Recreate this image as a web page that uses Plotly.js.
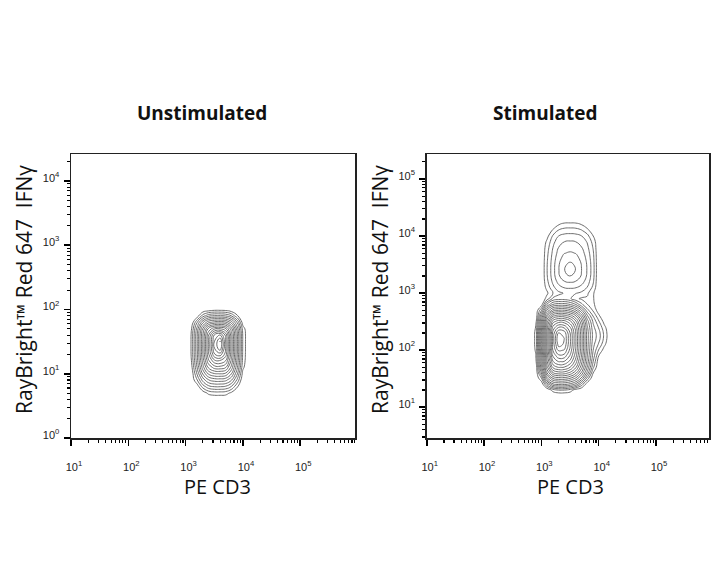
<!DOCTYPE html>
<html>
<head>
<meta charset="utf-8">
<script src="https://cdn.plot.ly/plotly-3.0.1.min.js"></script>
<style>html,body{margin:0;padding:0;background:#fff;}#chart{width:720px;height:576px;}</style>
</head>
<body>
<div id="chart"></div>
<script>
// ---------- data ----------
var panelTitles = ["Unstimulated", "Stimulated"];
var xTitle = "PE CD3";
var yTitle = "RayBright\u2122 Red 647  IFN\u03b3";

var xTickVals = [10, 100, 1000, 10000, 100000];
var xTickText = ["10<sup>1</sup>", "10<sup>2</sup>", "10<sup>3</sup>", "10<sup>4</sup>", "10<sup>5</sup>"];
var leftYTickVals = [1, 10, 100, 1000, 10000];
var leftYTickText = ["10<sup>0</sup>", "10<sup>1</sup>", "10<sup>2</sup>", "10<sup>3</sup>", "10<sup>4</sup>"];
var rightYTickVals = [10, 100, 1000, 10000, 100000];
var rightYTickText = ["10<sup>1</sup>", "10<sup>2</sup>", "10<sup>3</sup>", "10<sup>4</sup>", "10<sup>5</sup>"];

// Unstimulated: estimated density level (contour index) on a grid
var leftX = [800, 1000, 1250, 1600, 2000, 2500, 3200, 4000, 5000, 6300, 8000, 10000, 12500, 16000];
var leftY = [3.2, 4, 5, 6.3, 8, 10, 12.5, 16, 20, 25, 32, 40, 50, 63, 80, 100, 125];
var leftZ = [
  [0,0,0,0,0,0,0,0,0,0,0,0,0,0],
  [0,0,0,0,0,0,0,0,0,0,0,0,0,0],
  [0,0,0,0,0.3,1.2,1.5,1.5,1.4,0.7,0,0,0,0],
  [0,0,0,0.4,2.4,3.6,4.0,4.0,3.8,2.9,1.05,0,0,0],
  [0,0,0,2.0,4.4,5.9,6.45,6.5,6.3,5.1,2.7,0,0,0],
  [0,0,0,3.2,6.1,8.1,8.9,9.0,8.7,7.0,4.0,0.54,0,0],
  [0,0,0.4,4.1,7.5,10.1,11.4,11.5,11.0,8.6,5.0,1.2,0,0],
  [0,0,0.8,4.7,8.4,11.75,13.76,14.0,13.0,9.75,5.6,1.6,0,0],
  [0,0,1.0,4.9,8.9,12.7,15.9,16.5,14.5,10.35,5.9,1.75,0,0],
  [0,0,1.0,5.0,9.0,13.0,17.0,18.7,15.0,10.5,6.0,1.8,0,0],
  [0,0,1.0,5.0,9.0,13.0,17.0,19.0,15.0,10.5,6.0,1.8,0,0],
  [0,0,1.0,5.0,8.9,12.8,16.2,17.0,14.7,10.4,6.0,1.8,0,0],
  [0,0,0.7,4.5,8.1,11.2,12.8,13.0,12.2,9.4,5.4,1.5,0,0],
  [0,0,0,3.0,5.8,7.7,8.4,8.5,8.2,6.6,3.8,0.4,0,0],
  [0,0,0,0.4,2.4,3.6,4.0,4.0,3.8,2.9,1.05,0,0,0],
  [0,0,0,0,0,0.2,0.5,0.5,0.4,0,0,0,0,0],
  [0,0,0,0,0,0,0,0,0,0,0,0,0,0]
];

// Stimulated: estimated density level (contour index) on a grid
var rightX = [630, 800, 1000, 1250, 1600, 2000, 2500, 3200, 4000, 5000, 6300, 8000, 10000, 12500, 16000];
var rightY = [16, 20, 25, 32, 40, 50, 63, 80, 100, 125, 160, 200, 250, 320, 400, 500, 630, 800,
              1000, 1250, 1600, 2000, 2500, 3200, 4000, 5000, 6300, 8000, 10000, 12500, 16000, 20000];
var rightZ = [
  [0,0,0,0,0,0,0,0,0,0,0,0,0,0,0],
  [0,0,0,0,1.4,2.0,2.0,1.5,0.4,0,0,0,0,0,0],
  [0,0,0,3.0,5.6,6.0,6.0,5.5,4.5,2.5,0.2,0,0,0,0],
  [0,0,1.8,6.6,9.0,9.5,9.5,8.9,7.7,5.7,2.6,0,0,0,0],
  [0,0,4.0,8.9,11.9,12.5,12.5,11.7,10.2,7.8,4.7,1.0,0,0,0],
  [0,0.05,5.5,10.6,14.2,15.0,14.9,13.9,12.1,9.4,5.9,2.2,0,0,0],
  [0,0.6,6.2,11.7,15.9,17.0,16.9,15.6,13.4,10.4,6.7,3.0,0.3,0,0],
  [0,0.9,6.6,12.4,17.2,18.7,18.6,16.8,14.3,11.0,7.1,3.6,1.0,0,0],
  [0,1.1,6.9,12.8,18.1,20.2,19.9,17.6,14.8,11.4,7.4,4.0,1.9,0.5,0],
  [0,1.2,7.0,13.0,18.4,21.4,20.8,18.0,15.0,11.5,7.5,4.3,2.8,1.2,0],
  [0,1.2,7.0,13.0,18.5,22.0,21.0,18.0,15.0,11.5,7.5,4.6,3.4,1.7,0],
  [0,1.2,7.0,12.9,18.4,21.0,20.6,17.9,14.9,11.4,7.5,4.6,3.4,1.7,0],
  [0,1.05,6.7,12.5,17.4,19.0,18.8,17.0,14.4,11.1,7.2,4.3,2.9,1.3,0],
  [0,0.5,6.0,11.5,15.5,16.5,16.4,15.2,13.1,10.2,6.5,3.8,2.1,0.6,0],
  [0,0,4.8,9.6,12.8,13.5,13.4,12.6,11.0,8.5,5.2,2.9,1.2,0,0],
  [0,0,2.8,7.0,9.5,10.0,10.0,9.4,8.1,6.1,3.4,1.8,0.4,0,0],
  [0,0,0.4,4.1,6.1,6.5,6.5,6.0,5.0,3.3,2.0,1.3,0,0,0],
  [0,0,0,1.4,3.2,3.5,3.5,3.1,2.2,1.8,1.8,1.1,0,0,0],
  [0,0,0,0.74,1.99,2.71,3.03,3.1,3.03,2.75,2.18,1.13,0,0,0],
  [0,0,0,1.28,2.69,3.58,4.0,4.1,4.0,3.63,2.92,1.71,0,0,0],
  [0,0,0,1.67,3.25,4.33,4.94,5.1,4.94,4.41,3.51,2.14,0,0,0],
  [0,0,0,1.86,3.54,4.8,5.68,6.0,5.68,4.89,3.83,2.36,0,0,0],
  [0,0,0,1.9,3.6,4.9,5.9,6.6,5.9,5.0,3.9,2.4,0,0,0],
  [0,0,0,1.88,3.57,4.85,5.79,6.2,5.79,4.95,3.87,2.38,0,0,0],
  [0,0,0,1.79,3.44,4.63,5.38,5.6,5.38,4.71,3.72,2.28,0,0,0],
  [0,0,0,1.67,3.25,4.33,4.94,5.1,4.94,4.41,3.51,2.14,0,0,0],
  [0,0,0,1.49,2.99,3.98,4.48,4.6,4.48,4.04,3.24,1.9,0,0,0],
  [0,0,0,1.15,2.66,3.54,3.96,4.05,3.96,3.59,2.89,1.6,0,0,0],
  [0,0,0,0.6,2.15,2.98,3.32,3.4,3.32,3.02,2.35,1.0,0,0,0],
  [0,0,0,0,1.2,2.1,2.39,2.45,2.39,2.1,1.4,0.2,0,0,0],
  [0,0,0,0,0.1,0.9,1.3,1.35,1.3,0.95,0.2,0,0,0,0],
  [0,0,0,0,0,0,0,0,0,0,0,0,0,0,0]
];

// ---------- styling ----------
var lineColor = "#5c5c5c";
var tickFont = {family: "Liberation Sans, Arial, sans-serif", size: 11, color: "#222"};
var xTitleFont = {family: "Open Sans, sans-serif", size: 20, color: "#111"};
var yTitleFont = {family: "Open Sans, sans-serif", size: 21, color: "#111"};
var headFont = {family: "Open Sans, sans-serif", size: 19, color: "#111", weight: "bold"};

function contourTrace(x, y, z, xa, ya, top) {
  return {
    type: "contour", x: x, y: y, z: z, xaxis: xa, yaxis: ya,
    autocontour: false,
    contours: {start: 0.97, end: top, size: 1, coloring: "none"},
    line: {color: lineColor, width: 0.9, smoothing: 1.3},
    showscale: false, hoverinfo: "skip"
  };
}

function axisBase(domain, range, vals, text, isX, anchor) {
  return {
    type: "log", domain: domain, range: range, anchor: anchor,
    tickmode: "array", tickvals: vals, ticktext: text,
    ticks: "outside", ticklen: 6, tickwidth: 1.6, tickcolor: "#000",
    minor: {ticks: "outside", ticklen: 3, tickwidth: 1.1, tickcolor: "#000", dtick: "D1"},
    showline: true, mirror: true, linecolor: "#222", linewidth: 1.5,
    showgrid: false, zeroline: false, fixedrange: true,
    tickfont: tickFont,
    ticklabelstandoff: isX ? 12 : 2,
    ticklabelshift: isX ? 3 : -3
  };
}

var yDom = [1 - 438 / 576, 1 - 154 / 576];
var layout = {
  width: 720, height: 576,
  margin: {l: 0, r: 0, t: 0, b: 0},
  paper_bgcolor: "#fff", plot_bgcolor: "#fff",
  showlegend: false,
  xaxis: axisBase([71 / 720, 355 / 720], [1, 5.956], xTickVals, xTickText, true, "y"),
  yaxis: axisBase(yDom, [0, 4.42], leftYTickVals, leftYTickText, false, "x"),
  xaxis2: axisBase([426.7 / 720, 709.3 / 720], [1, 5.93], xTickVals, xTickText, true, "y2"),
  yaxis2: axisBase(yDom, [0.46, 5.44], rightYTickVals, rightYTickText, false, "x2"),
  annotations: [
    {text: panelTitles[0], xref: "paper", yref: "paper", x: 201.5 / 720, y: 1 - 112.7 / 576,
     xanchor: "center", yanchor: "middle", showarrow: false, font: headFont},
    {text: panelTitles[1], xref: "paper", yref: "paper", x: 544.7 / 720, y: 1 - 112.7 / 576,
     xanchor: "center", yanchor: "middle", showarrow: false, font: headFont},
    {text: xTitle, xref: "paper", yref: "paper", x: 217.5 / 720, y: 1 - 486.7 / 576,
     xanchor: "center", yanchor: "middle", showarrow: false, font: xTitleFont},
    {text: xTitle, xref: "paper", yref: "paper", x: 570 / 720, y: 1 - 486.7 / 576,
     xanchor: "center", yanchor: "middle", showarrow: false, font: xTitleFont},
    {text: yTitle, xref: "paper", yref: "paper", x: 24 / 720, y: 1 - 290 / 576, textangle: -90,
     xanchor: "center", yanchor: "middle", showarrow: false, font: yTitleFont},
    {text: yTitle, xref: "paper", yref: "paper", x: 380 / 720, y: 1 - 290 / 576, textangle: -90,
     xanchor: "center", yanchor: "middle", showarrow: false, font: yTitleFont}
  ]
};

var data = [
  contourTrace(leftX, leftY, leftZ, "x", "y", 18.97),
  contourTrace(rightX, rightY, rightZ, "x2", "y2", 20.97)
];

Plotly.newPlot("chart", data, layout, {staticPlot: true, displayModeBar: false});
</script>
</body>
</html>
